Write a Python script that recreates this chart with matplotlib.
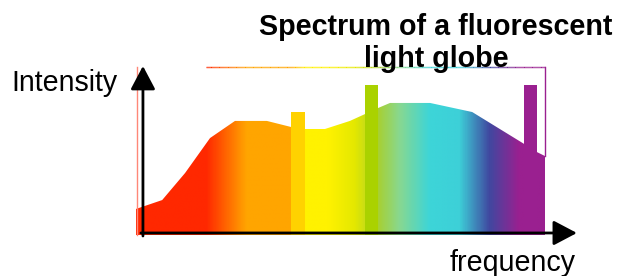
import numpy as np
import matplotlib
matplotlib.use("Agg")
import matplotlib.pyplot as plt
from matplotlib.colors import LinearSegmentedColormap
from matplotlib.collections import LineCollection

# ---- data (frequency in % of visible range, intensity in arbitrary %) ----
freq = [0, 6.4, 12.0, 18.1, 24.2, 32.0, 37.9, 41.3, 46.2, 52.3, 56.0, 59.2,
        62.1, 71.9, 82.2, 94.9, 98.0, 100]
intensity = [15.5, 20.8, 36.9, 57.7, 67.9, 67.9, 64.3, 63.1, 63.1, 67.9, 72.0,
             75.6, 78.6, 78.6, 73.2, 54.2, 49.4, 47.0]

spike_start = [37.9, 56.0, 94.9]
spike_width = [3.4, 3.2, 3.1]
spike_height = [73.2, 89.3, 89.3]
spike_colors = ["#FFD200", "#AAD200", "#9A2090"]

# spectrum colour stops (position along frequency axis, colour)
stop_pos = [0, 17.1, 26.9, 37.7, 41.3, 46.9, 53.5, 59.2, 64.5, 71.9, 79.2,
            86.6, 93.9, 100]
stop_col = ["#FF2800", "#FF2800", "#FFA500", "#FFA500", "#FFF200", "#FFF200",
            "#E4E800", "#A8D030", "#88D890", "#3DD5D8", "#3DD0D8", "#4048A0",
            "#9A2090", "#9A2090"]

title = "Spectrum of a fluorescent\nlight globe"
ylabel = "Intensity"
xlabel = "frequency"

# -------------------------------------------------------------------------
fig = plt.figure(figsize=(6.28, 2.76), dpi=100)
ax = fig.add_axes([136 / 628, 1 - 235 / 276, 409 / 628, 168 / 276])
ax.set_xlim(0, 100)
ax.set_ylim(0, 100)
ax.axis("off")

cmap = LinearSegmentedColormap.from_list(
    "spec", list(zip(np.array(stop_pos) / 100.0, stop_col)))

# gradient continuum clipped to the spectrum shape
poly = ax.fill_between(freq, 0, intensity, color="none", lw=0)
grad = np.linspace(0, 1, 800).reshape(1, -1)
img = ax.imshow(grad, cmap=cmap, aspect="auto", extent=[0, 100, 0, 100],
                origin="lower", interpolation="bilinear", zorder=1)
clip = poly.get_paths()[0]
img.set_clip_path(clip, transform=ax.transData)

# emission lines
ax.bar(spike_start, spike_height, width=spike_width, align="edge",
       color=spike_colors, lw=0, zorder=2)

# frame lines
xs = np.linspace(17.1, 100, 300)
segs = [[(xs[i], 100), (xs[i + 1], 100)] for i in range(len(xs) - 1)]
lc = LineCollection(segs, colors=cmap(xs[:-1] / 100), lw=1.0, zorder=1,
                    clip_on=False)
ax.add_collection(lc)
ax.axvline(100, ymin=intensity[-1] / 100, ymax=1, color="#9A2090", lw=1.0,
           clip_on=False, zorder=1)
ax.axvline(0.2, ymin=0, ymax=1, color="#FF8878", lw=1.0, clip_on=False,
           zorder=1)

# axis arrows
ax.annotate("", xy=(1.7, 100.6), xytext=(1.7, -0.6),
            arrowprops=dict(arrowstyle="-|>,head_length=0.72,head_width=0.38",
                            mutation_scale=20, lw=2, color="black",
                            shrinkA=0, shrinkB=0), annotation_clip=False,
            zorder=5)
ax.annotate("", xy=(107.8, 1.2), xytext=(1.2, 1.2),
            arrowprops=dict(arrowstyle="-|>,head_length=0.72,head_width=0.38",
                            mutation_scale=20, lw=2, color="black",
                            shrinkA=0, shrinkB=0), annotation_clip=False,
            zorder=5)

font = ["Liberation Sans", "DejaVu Sans"]
fig.text(436 / 628, 1 - 43 / 276, title, ha="center", va="center",
         fontsize=20.6, fontweight="bold", family=font, linespacing=1.22,
         zorder=6)
fig.text(118 / 628, 1 - 83 / 276, ylabel, ha="right", va="center",
         fontsize=20.6, family=font)
fig.text(513 / 628, 1 - 263 / 276, xlabel, ha="center", va="center",
         fontsize=20.6, family=font)

fig.savefig("out.png", dpi=100)
